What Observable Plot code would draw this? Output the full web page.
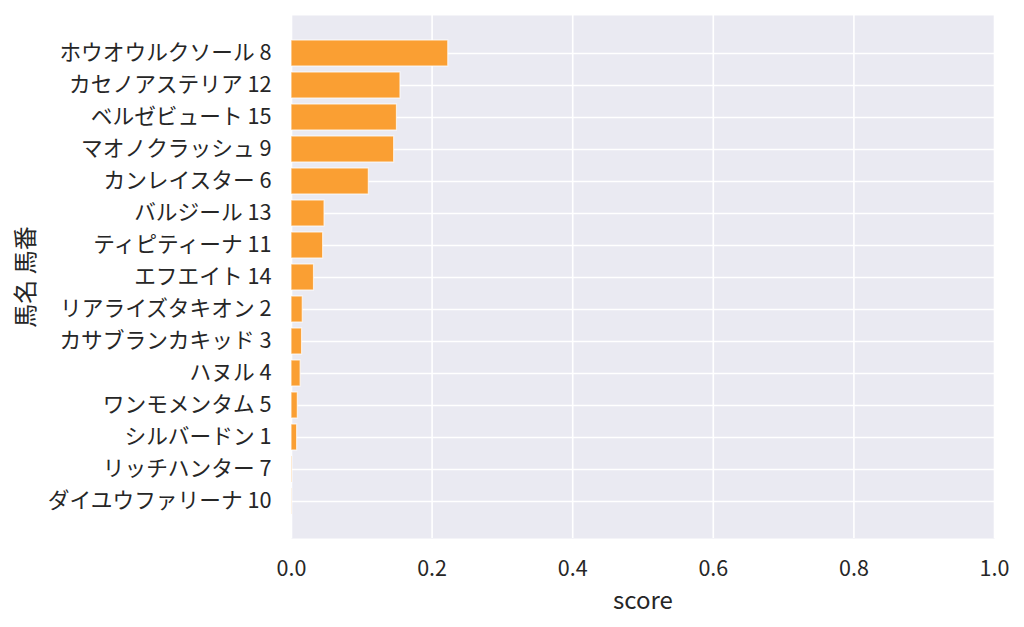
<!DOCTYPE html>
<html>
<head>
<meta charset="utf-8">
<script src="https://cdn.jsdelivr.net/npm/d3@7"></script>
<script src="https://cdn.jsdelivr.net/npm/@observablehq/plot@0.6"></script>
<style>
  html, body { margin: 0; padding: 0; background: #ffffff; }
  #chart { width: 1024px; height: 627px; }
</style>
</head>
<body>
<div id="chart"></div>
<script>
const names = [
  "ホウオウルクソール 8",
  "カセノアステリア 12",
  "ベルゼビュート 15",
  "マオノクラッシュ 9",
  "カンレイスター 6",
  "バルジール 13",
  "ティピティーナ 11",
  "エフエイト 14",
  "リアライズタキオン 2",
  "カサブランカキッド 3",
  "ハヌル 4",
  "ワンモメンタム 5",
  "シルバードン 1",
  "リッチハンター 7",
  "ダイユウファリーナ 10"
];
const scores = [0.223, 0.155, 0.150, 0.146, 0.110, 0.047, 0.045, 0.032, 0.016, 0.015, 0.013, 0.009, 0.008, 0.001, 0.0005];
const xTicks = [0, 0.2, 0.4, 0.6, 0.8, 1.0];

const data = names.map((n, i) => ({name: n, score: scores[i]}));

const chart = Plot.plot({
  width: 1024,
  height: 627,
  marginLeft: 291,
  marginRight: 30,
  marginTop: 15,
  marginBottom: 89,
  style: {fontFamily: "'Noto Sans CJK JP', 'Noto Sans', sans-serif", fontSize: "22px", color: "#262626", background: "#ffffff"},
  x: {domain: [0, 1], ticks: xTicks, tickFormat: d3.format(".1f")},
  y: {domain: names, paddingInner: 0.2, paddingOuter: 0.7, align: 0.5},
  marks: [
    Plot.frame({fill: "#EAEAF2", stroke: null}),
    Plot.gridX(xTicks, {stroke: "#ffffff", strokeOpacity: 1, strokeWidth: 1.6}),
    Plot.gridY(names, {stroke: "#ffffff", strokeOpacity: 1, strokeWidth: 1.6}),
    Plot.barX(data, {x: "score", y: "name", fill: "#FA9F33", stroke: "#ffffff", strokeOpacity: 0.7, strokeWidth: 1.2}),
    Plot.axisX({ticks: xTicks, tickFormat: d3.format(".1f"), tickSize: 0, tickPadding: 22, fontSize: 21.5, label: null}),
    Plot.axisX({ticks: [], tickSize: 0, fontSize: 24, label: "score", labelAnchor: "center", labelArrow: "none", labelOffset: 70}),
    Plot.axisY({tickSize: 0, tickPadding: 20, fontSize: 21.7, label: null}),
    Plot.axisY({ticks: [], tickSize: 0, fontSize: 24, label: "馬名 馬番", labelAnchor: "center", labelArrow: "none", labelOffset: 275})
  ]
});
document.getElementById("chart").appendChild(chart);
</script>
</body>
</html>
